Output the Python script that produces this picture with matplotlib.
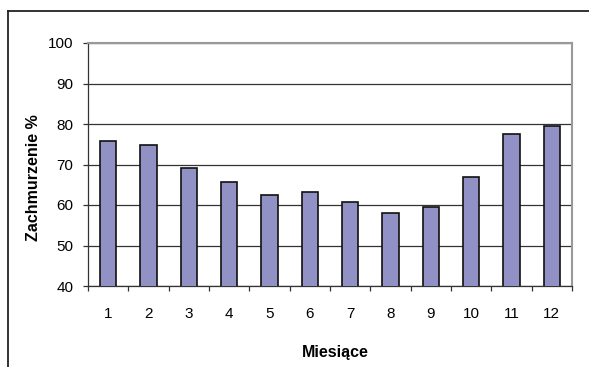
import matplotlib
matplotlib.use("Agg")
import matplotlib.pyplot as plt
from matplotlib.lines import Line2D

plt.rcParams['font.family'] = ['Liberation Sans', 'DejaVu Sans']

months = ['1', '2', '3', '4', '5', '6', '7', '8', '9', '10', '11', '12']
cloudiness = [75.9, 74.7, 69.1, 65.8, 62.4, 63.2, 60.8, 58.0, 59.4, 67.0, 77.5, 79.4]
y_ticks = [40, 50, 60, 70, 80, 90, 100]

W, H = 589, 367
fig = plt.figure(figsize=(W / 100, H / 100), dpi=100)
fig.patch.set_facecolor('white')

# outer chart frame (top and left edges visible)
fig.add_artist(Line2D([8 / W, 8 / W], [0, 1 - 10.5 / H], color='#222222', lw=1.3,
                      transform=fig.transFigure))
fig.add_artist(Line2D([8 / W, 1.0], [1 - 10.5 / H, 1 - 10.5 / H], color='#222222', lw=1.3,
                      transform=fig.transFigure))

ax = fig.add_axes([88 / W, (H - 286) / H, (572 - 88) / W, (286 - 43) / H])
x = list(range(len(months)))
ax.bar(x, cloudiness, width=0.4, bottom=0, color='#9191c6', edgecolor='#111111',
       linewidth=1.2, zorder=3)

ax.set_xlim(-0.5, len(months) - 0.5)
ax.set_ylim(40, 100)
ax.set_yticks(y_ticks)
ax.yaxis.grid(True, color='#333333', linewidth=0.9, zorder=0)

ax.set_xticks(x)
ax.set_xticklabels(months, fontsize=11)
ax.set_xticks([i - 0.5 for i in range(len(months) + 1)], minor=True)
ax.tick_params(axis='x', which='major', length=0, pad=15)
ax.tick_params(axis='x', which='minor', length=3.5, width=0.9, color='#333333', direction='out')
ax.tick_params(axis='y', length=3.5, width=0.9, color='#333333', direction='out',
               labelsize=11, pad=7)

for side in ('top', 'right'):
    ax.spines[side].set_color('#999999')
    ax.spines[side].set_linewidth(1.5)
for side in ('left', 'bottom'):
    ax.spines[side].set_color('#333333')
    ax.spines[side].set_linewidth(0.9)

fig.text(33 / W, 1 - 178 / H, 'Zachmurzenie %', rotation=90, ha='center', va='center',
         fontsize=11.5, fontweight='bold')
fig.text(335 / W, 1 - 352 / H, 'Miesiące', ha='center', va='center',
         fontsize=11.5, fontweight='bold')

fig.savefig('out.png', dpi=100)
